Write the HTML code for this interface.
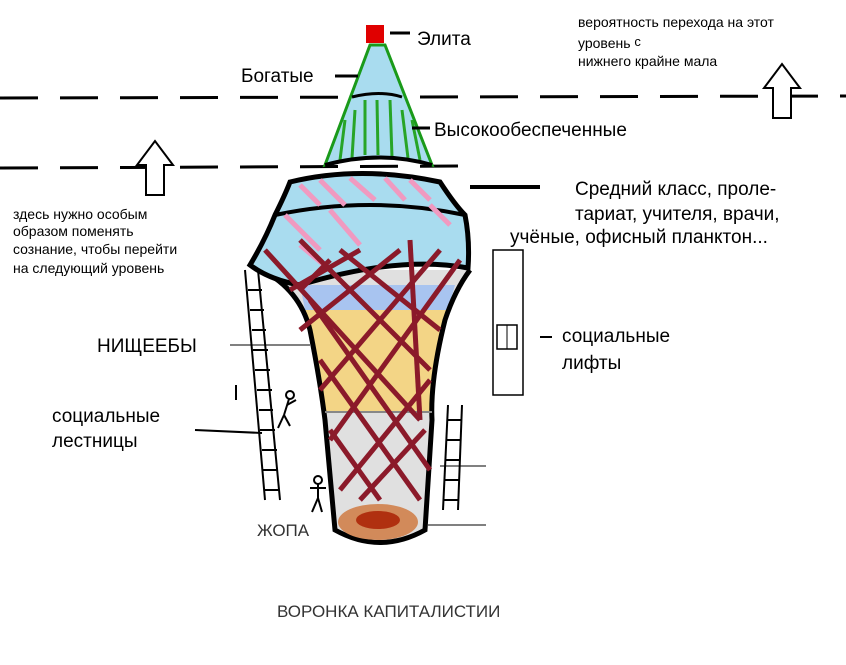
<!DOCTYPE html>
<html><head><meta charset="utf-8"><style>
html,body{margin:0;padding:0;background:#fff;}
svg{display:block}
text{font-family:"Liberation Sans",sans-serif;}
</style></head><body>
<svg width="846" height="665" viewBox="0 0 846 665" xmlns="http://www.w3.org/2000/svg">
<rect width="846" height="665" fill="#fff"/>
<!-- dashed lines -->
<line x1="0" y1="98" x2="846" y2="96" stroke="#000" stroke-width="3" stroke-dasharray="38,22"/>
<line x1="0" y1="168" x2="465" y2="166" stroke="#000" stroke-width="3" stroke-dasharray="38,22"/>
<line x1="470" y1="187" x2="540" y2="187" stroke="#000" stroke-width="4"/>
<!-- arrows -->
<path d="M146 195 L146 165 L137 165 L155 141 L173 165 L164 165 L164 195 Z" fill="#fff" stroke="#000" stroke-width="2"/>
<path d="M773 118 L773 88 L764 88 L782 64 L800 88 L791 88 L791 118 Z" fill="#fff" stroke="#000" stroke-width="2"/>
<!-- lift -->
<rect x="493" y="250" width="30" height="145" fill="#fff" stroke="#000" stroke-width="1.5"/>
<rect x="497" y="325" width="20" height="24" fill="#fff" stroke="#000" stroke-width="1.5"/>
<line x1="507" y1="325" x2="507" y2="349" stroke="#000"/>
<!-- body funnel -->
<path d="M262 270 Q300 290 310 330 Q320 380 325 420 L335 530 Q380 555 425 530 L432 420 Q430 380 445 320 Q455 290 470 270 Z" fill="#e0e0e0" stroke="none"/>
<path d="M300 285 L455 285 L448 310 L305 310 Z" fill="#a8c4f0"/>
<path d="M305 310 L448 310 Q436 360 432 412 L325 412 Q318 360 305 310 Z" fill="#f3d586"/>
<path d="M262 270 Q300 290 310 330 Q320 380 325 420 L335 530 Q380 555 425 530 L432 420 Q430 380 445 320 Q455 290 470 270" fill="none" stroke="#000" stroke-width="5"/>
<line x1="325" y1="412" x2="432" y2="412" stroke="#888" stroke-width="2"/>
<!-- light blue middle -->
<path d="M290 182 Q360 165 440 182 Q455 205 465 215 Q470 240 468 268 Q400 255 300 285 Q270 280 250 265 Q265 240 275 215 Q285 195 290 182 Z" fill="#a9dcef" stroke="#000" stroke-width="5"/>
<path d="M275 215 Q370 195 465 215" fill="none" stroke="#000" stroke-width="4"/>
<!-- pink stripes -->
<g stroke="#f09ac0" stroke-width="5">
<line x1="300" y1="185" x2="320" y2="205"/><line x1="320" y1="180" x2="345" y2="205"/><line x1="350" y1="178" x2="375" y2="200"/>
<line x1="385" y1="178" x2="405" y2="200"/><line x1="410" y1="180" x2="430" y2="200"/><line x1="285" y1="215" x2="320" y2="250"/>
<line x1="330" y1="210" x2="360" y2="245"/><line x1="430" y1="205" x2="450" y2="225"/><line x1="300" y1="245" x2="330" y2="270"/>
</g>
<!-- green cone -->
<path d="M370 45 L325 165 Q380 150 432 165 L385 45 Z" fill="#a9dcef" stroke="#1a9a1a" stroke-width="3"/>
<g stroke="#27a527" stroke-width="3">
<line x1="345" y1="120" x2="340" y2="160"/><line x1="355" y1="110" x2="352" y2="158"/><line x1="365" y1="100" x2="365" y2="155"/>
<line x1="377" y1="100" x2="378" y2="155"/><line x1="390" y1="100" x2="392" y2="157"/><line x1="402" y1="110" x2="408" y2="158"/>
<line x1="412" y1="120" x2="420" y2="160"/>
</g>
<path d="M325 165 Q380 150 432 165" fill="none" stroke="#000" stroke-width="4"/>
<path d="M352 97 Q380 90 402 97" fill="none" stroke="#000" stroke-width="3"/>
<rect x="366" y="25" width="18" height="18" fill="#e00000"/>
<line x1="335" y1="76" x2="358" y2="76" stroke="#000" stroke-width="3"/>
<line x1="390" y1="33" x2="410" y2="33" stroke="#000" stroke-width="3"/>
<line x1="412" y1="128" x2="430" y2="128" stroke="#000" stroke-width="3"/>
<!-- red crosshatch -->
<g stroke="#8b1a2a" stroke-width="5" fill="none">
<line x1="265" y1="250" x2="420" y2="420"/><line x1="300" y1="240" x2="430" y2="370"/><line x1="340" y1="250" x2="440" y2="330"/>
<line x1="310" y1="300" x2="430" y2="470"/><line x1="320" y1="360" x2="420" y2="500"/><line x1="330" y1="430" x2="380" y2="500"/>
<line x1="440" y1="250" x2="320" y2="390"/><line x1="460" y1="260" x2="330" y2="440"/><line x1="400" y1="250" x2="300" y2="330"/>
<line x1="430" y1="380" x2="340" y2="490"/><line x1="425" y1="430" x2="360" y2="500"/><line x1="360" y1="250" x2="290" y2="290"/>
<line x1="410" y1="240" x2="420" y2="420"/><line x1="330" y1="260" x2="300" y2="290"/>
</g>
<!-- bottom pit -->
<ellipse cx="378" cy="522" rx="40" ry="18" fill="#d28a5a"/>
<ellipse cx="378" cy="520" rx="22" ry="9" fill="#b03010"/>
<!-- ladders -->
<g stroke="#000" stroke-width="2">
<line x1="245" y1="270" x2="265" y2="500"/><line x1="258" y1="270" x2="280" y2="500"/>
<line x1="248" y1="290" x2="262" y2="290"/><line x1="250" y1="310" x2="264" y2="310"/><line x1="252" y1="330" x2="266" y2="330"/>
<line x1="253" y1="350" x2="268" y2="350"/><line x1="255" y1="370" x2="270" y2="370"/><line x1="257" y1="390" x2="272" y2="390"/>
<line x1="259" y1="410" x2="273" y2="410"/><line x1="260" y1="430" x2="275" y2="430"/><line x1="262" y1="450" x2="277" y2="450"/>
<line x1="263" y1="470" x2="278" y2="470"/><line x1="264" y1="490" x2="279" y2="490"/>
<line x1="448" y1="405" x2="443" y2="510"/><line x1="462" y1="405" x2="458" y2="510"/>
<line x1="447" y1="420" x2="461" y2="420"/><line x1="446" y1="440" x2="460" y2="440"/><line x1="445" y1="460" x2="460" y2="460"/>
<line x1="445" y1="480" x2="459" y2="480"/><line x1="444" y1="500" x2="458" y2="500"/>
<line x1="230" y1="345" x2="310" y2="345" stroke-width="1"/>
<line x1="195" y1="430" x2="262" y2="433"/>
<line x1="236" y1="385" x2="236" y2="400"/>
<line x1="440" y1="466" x2="486" y2="466" stroke-width="1"/>
<line x1="428" y1="525" x2="486" y2="525" stroke-width="1"/>
<line x1="540" y1="337" x2="552" y2="337"/>
</g>
<!-- people -->
<g stroke="#000" stroke-width="2" fill="none">
<circle cx="290" cy="395" r="4"/><line x1="289" y1="399" x2="284" y2="415"/><line x1="284" y1="415" x2="278" y2="428"/><line x1="284" y1="415" x2="290" y2="426"/><line x1="287" y1="405" x2="296" y2="400"/>
<circle cx="318" cy="480" r="4"/><line x1="318" y1="484" x2="318" y2="498"/><line x1="318" y1="498" x2="312" y2="512"/><line x1="318" y1="498" x2="322" y2="512"/><line x1="310" y1="488" x2="326" y2="488"/>
</g>
<!-- text -->
<g font-size="19" fill="#000">
<text x="417" y="45">Элита</text>
<text x="241" y="82">Богатые</text>
<text x="434" y="136">Высокообеспеченные</text>
<text x="97" y="352">НИЩЕЕБЫ</text>
<text x="52" y="422">социальные</text>
<text x="52" y="447">лестницы</text>
<text x="562" y="342">социальные</text>
<text x="562" y="369">лифты</text>
<text x="575" y="195">Средний класс, проле-</text>
<text x="575" y="220">тариат, учителя, врачи,</text>
<text x="510" y="243">учёные, офисный планктон...</text>
</g>
<g font-size="14" fill="#000">
<text x="578" y="27">вероятность перехода на этот</text>
<text x="578" y="48">уровень <tspan font-size="13" dy="-2">с</tspan></text>
<text x="578" y="66">нижнего крайне мала</text>
<text x="13" y="219">здесь нужно особым</text>
<text x="13" y="236">образом поменять</text>
<text x="13" y="254">сознание, чтобы перейти</text>
<text x="13" y="273">на следующий уровень</text>
</g>
<text x="257" y="536" font-size="17" fill="#333">ЖОПА</text>
<text x="277" y="617" font-size="17" fill="#333">ВОРОНКА КАПИТАЛИСТИИ</text>
</svg>
</body></html>
